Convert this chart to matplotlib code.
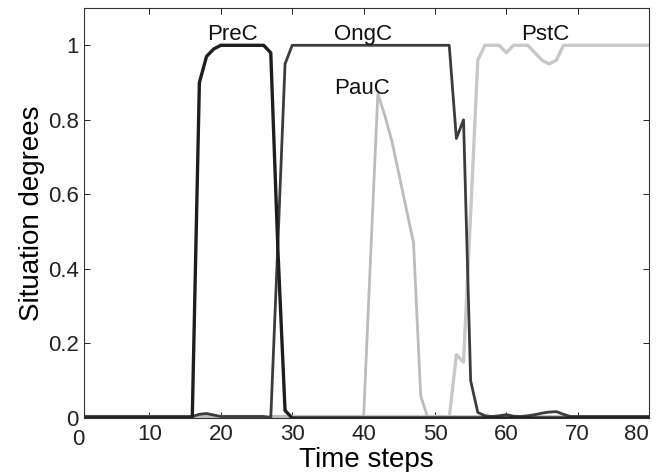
import numpy as np
import matplotlib
matplotlib.use("Agg")
import matplotlib.pyplot as plt

plt.rcParams["font.family"] = ["Liberation Sans", "DejaVu Sans"]

steps = np.arange(1, 81)

# situation degrees, one value per time step (1..80)
prec = np.zeros(80)
prec[15:30] = [0.0, 0.90, 0.97, 0.99, 1.0, 1.0, 1.0, 1.0, 1.0, 1.0, 1.0,
               0.98, 0.45, 0.02, 0.0]          # steps 16..30

ongc = np.full(80, 0.004)
ongc[16:19] = [0.010, 0.012, 0.008]             # small bump at 17..19
ongc[26:57] = [0.0, 0.47, 0.95] + [1.0] * 23 + [0.75, 0.80, 0.10, 0.015, 0.006]   # 27..57
ongc[58:61] = [0.006, 0.009, 0.005]             # 59..61
ongc[62:69] = [0.006, 0.009, 0.013, 0.016, 0.017, 0.010, 0.004]   # 63..69

pauc = np.full(80, 0.004)
pauc[39:49] = [0.0, 0.44, 0.87, 0.81, 0.74, 0.65, 0.56, 0.47, 0.06, 0.0]   # 40..49

pstc = np.full(80, 0.004)
pstc[51:80] = [0.0, 0.17, 0.15, 0.55, 0.96, 1.0, 1.0, 1.0, 0.98, 1.0, 1.0,
               1.0, 0.98, 0.96, 0.95, 0.96, 1.0] + [1.0] * 12        # 52..80

labels = ["PreC", "OngC", "PauC", "PstC"]
label_pos = [(21.6, 1.03), (39.9, 1.03), (39.8, 0.885), (65.4, 1.03)]

fig = plt.figure(figsize=(6.57, 4.72), dpi=100)
ax = fig.add_axes([0.128, 0.1144, 0.86, 0.8686])

ax.plot(steps, pstc, color="#c8c8c8", lw=2.4)
ax.plot(steps, pauc, color="#bcbcbc", lw=2.0)
ax.plot(steps, ongc, color="#3c3c3c", lw=2.0)
ax.plot(steps, prec, color="#1e1e1e", lw=2.4)

for name, (lx, ly) in zip(labels, label_pos):
    ax.text(lx, ly, name, ha="center", va="center", fontsize=16, color="#111111")

ax.set_xlim(0.85, 80)
ax.set_ylim(0, 1.1)
ax.set_xticks(np.arange(10, 81, 10))
ax.set_yticks([0, 0.2, 0.4, 0.6, 0.8, 1.0])
ax.set_yticklabels(["0", "0.2", "0.4", "0.6", "0.8", "1"])
ax.tick_params(direction="in", top=True, right=True, length=4, width=0.7,
               labelsize=16, pad=4, colors="#222222")
ax.get_xticklabels()[-1].set_horizontalalignment("right")
# the reference also labels 0 just left of the axis box
ax.text(0, -0.03, "0", transform=ax.transData, ha="center", va="top",
        fontsize=16, color="#222222", clip_on=False)
for s in ax.spines.values():
    s.set_linewidth(0.8)
    s.set_color("#333333")

ax.set_xlabel("Time steps", fontsize=20, labelpad=2)
ax.set_ylabel("Situation degrees", fontsize=20, labelpad=2)

fig.savefig("out.png", dpi=100)
